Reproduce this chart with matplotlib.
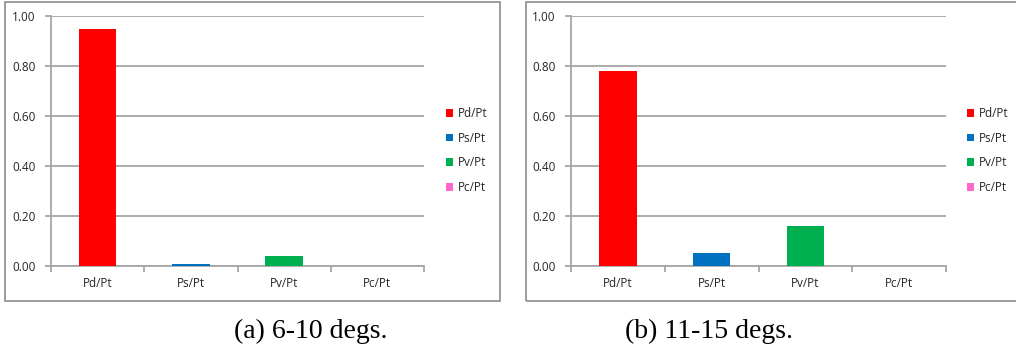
import matplotlib
matplotlib.use("Agg")
import matplotlib.pyplot as plt
from matplotlib.patches import Rectangle

# data
categories = ["Pd/Pt", "Ps/Pt", "Pv/Pt", "Pc/Pt"]
ratios_a = [0.947, 0.007, 0.040, 0.0]   # 6-10 degs.
ratios_b = [0.78, 0.051, 0.16, 0.0]     # 11-15 degs.
captions = ["(a) 6-10 degs.", "(b) 11-15 degs."]
yticks = [0.0, 0.2, 0.4, 0.6, 0.8, 1.0]
colors = ["#ff0000", "#0070c0", "#00b050", "#ff66cc"]

W, H = 1016, 349
fig = plt.figure(figsize=(W / 100, H / 100), dpi=100)

label_font = "Open Sans"
label_size = 8.5
grid_col = "#a6a6a6"
text_col = "#262626"


def px(x0, x1, ybot, ytop):
    # pixel box -> figure fraction [l, b, w, h]
    return [x0 / W, 1 - ybot / H, (x1 - x0) / W, (ybot - ytop) / H]


def panel(rect, values, legend_x, box, caption, cap_x):
    ax = fig.add_axes(rect)
    for i, (cat, v) in enumerate(zip(categories, values)):
        ax.bar(i, v, width=0.4, color=colors[i], label=cat, zorder=3)
    ax.set_xlim(-0.5, len(categories) - 0.5)
    ax.set_ylim(0, 1.0)
    ax.set_yticks(yticks)
    ax.set_yticklabels([f"{t:.2f}" for t in yticks], fontsize=label_size, family=label_font, color=text_col)
    ax.yaxis.grid(True, color=grid_col, linewidth=1.3, zorder=0)
    # category ticks on boundaries, labels in the middle
    ax.set_xticks([i - 0.5 for i in range(len(categories) + 1)])
    ax.set_xticklabels([])
    ax.set_xticks(range(len(categories)), minor=True)
    ax.set_xticklabels(categories, minor=True, fontsize=label_size, family=label_font, color=text_col)
    ax.tick_params(axis="x", which="minor", length=0, pad=8)
    ax.tick_params(axis="x", which="major", length=4, color=grid_col, width=1.3)
    ax.tick_params(axis="y", length=4, color=grid_col, width=1.3, pad=7)
    for s in ["top", "right"]:
        ax.spines[s].set_visible(False)
    for s in ["left", "bottom"]:
        ax.spines[s].set_color(grid_col)
        ax.spines[s].set_linewidth(1.3)
    leg = ax.legend(loc="center left", bbox_to_anchor=(legend_x / W, 1 - 150.5 / H),
                    bbox_transform=fig.transFigure, frameon=False,
                    handlelength=0.62, handleheight=0.62, handletextpad=0.35,
                    labelspacing=0.98, borderpad=0, borderaxespad=0,
                    prop={"family": label_font, "size": label_size})
    for t in leg.get_texts():
        t.set_color(text_col)
    x0, y0, x1, y1 = box
    fig.patches.append(Rectangle((x0 / W, 1 - y1 / H), (x1 - x0) / W, (y1 - y0) / H,
                                 transform=fig.transFigure, fill=False,
                                 edgecolor="#8c8c8c", linewidth=1.2))
    fig.text(cap_x / W, 1 - 338 / H, caption, ha="center", va="baseline",
             family="Liberation Serif", fontsize=20)
    return ax


panel(px(51, 424, 266, 16), ratios_a, 446, (5, 1.5, 500, 301), captions[0], 311)
panel(px(571, 946, 266, 16), ratios_b, 967, (526, 1.5, 1030, 301), captions[1], 709)

fig.savefig("out.png", dpi=100)
